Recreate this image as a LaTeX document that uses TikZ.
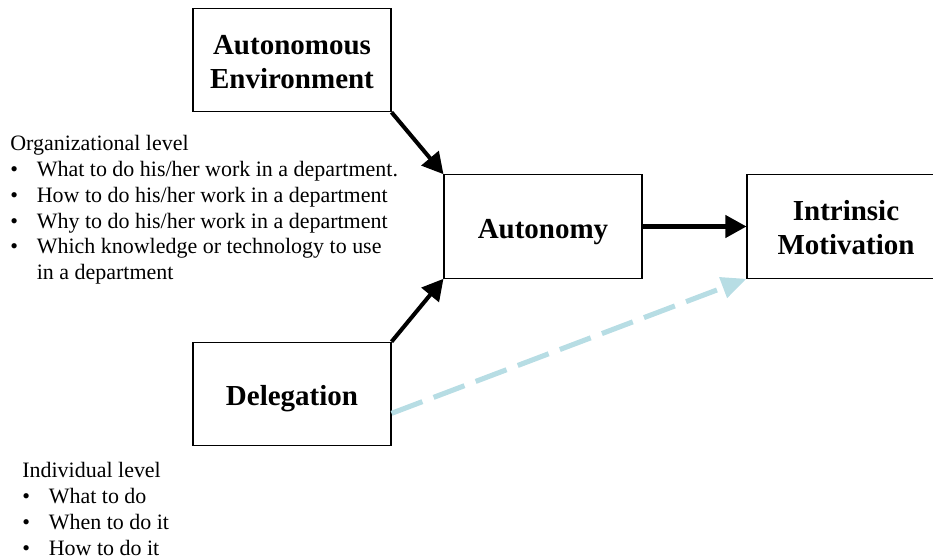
\documentclass[tikz,border=0pt]{standalone}
\usepackage{fontspec}
\setmainfont{Liberation Serif}
\usetikzlibrary{arrows.meta, positioning}

\definecolor{dashblue}{RGB}{183,221,228}
% bullet line for the level lists
\newcommand{\lvlitem}[1]{\makebox[0.53cm][l]{\textbullet}#1}

\begin{document}
\begin{tikzpicture}[
    every node/.style={align=center},
    box/.style={rectangle, draw=black, line width=0.6pt, minimum width=3.96cm, minimum height=2.07cm, text depth=0pt, text height=13.6pt, font=\fontsize{16.5}{19.3}\selectfont\bfseries},
    twoline/.style={text height=32pt},
    lvl/.style={align=left, anchor=north west, inner sep=0pt, font=\fontsize{12.5}{14.7}\selectfont},
    arrow/.style={-{Triangle[length=0.42cm, width=0.44cm]}, line width=2.3pt},
    dasharrow/.style={-{Triangle[length=0.5cm, width=0.42cm]}, line width=2.9pt, dashblue, dash pattern=on 0.66cm off 0.24cm}
]
\useasboundingbox (0,0) rectangle (18.66,11.18);

% --- Cajas
\node[box, twoline] (env) at (5.84,9.98) {Autonomous\\Environment};
\node[box] (autonomy) at (10.86,6.65) {Autonomy};
\node[box, twoline] (intrinsic) at (16.92,6.65) {Intrinsic\\Motivation};
\node[box] (delegation) at (5.84,3.30) {Delegation};

% --- Listas de niveles
\node[lvl] (orglevel) at (0.2,8.48) {Organizational level\\
    \lvlitem{What to do his/her work in a department.}\\
    \lvlitem{How to do his/her work in a department}\\
    \lvlitem{Why to do his/her work in a department}\\
    \lvlitem{Which knowledge or technology to use}\\
    \hspace*{0.53cm}in a department};
\node[lvl] (indlevel) at (0.44,1.94) {Individual level\\
    \lvlitem{What to do}\\
    \lvlitem{When to do it}\\
    \lvlitem{How to do it}};

% --- Flechas
\draw[arrow] (env.south east) -- (autonomy.north west);
\draw[arrow] (delegation.north east) -- (autonomy.south west);
\draw[arrow] (autonomy.east) -- (intrinsic.west);

% Flecha discontinua (delegation -> intrinsic)
\draw[dasharrow] (delegation.-11) -- (intrinsic.south west);

\end{tikzpicture}
\end{document}
